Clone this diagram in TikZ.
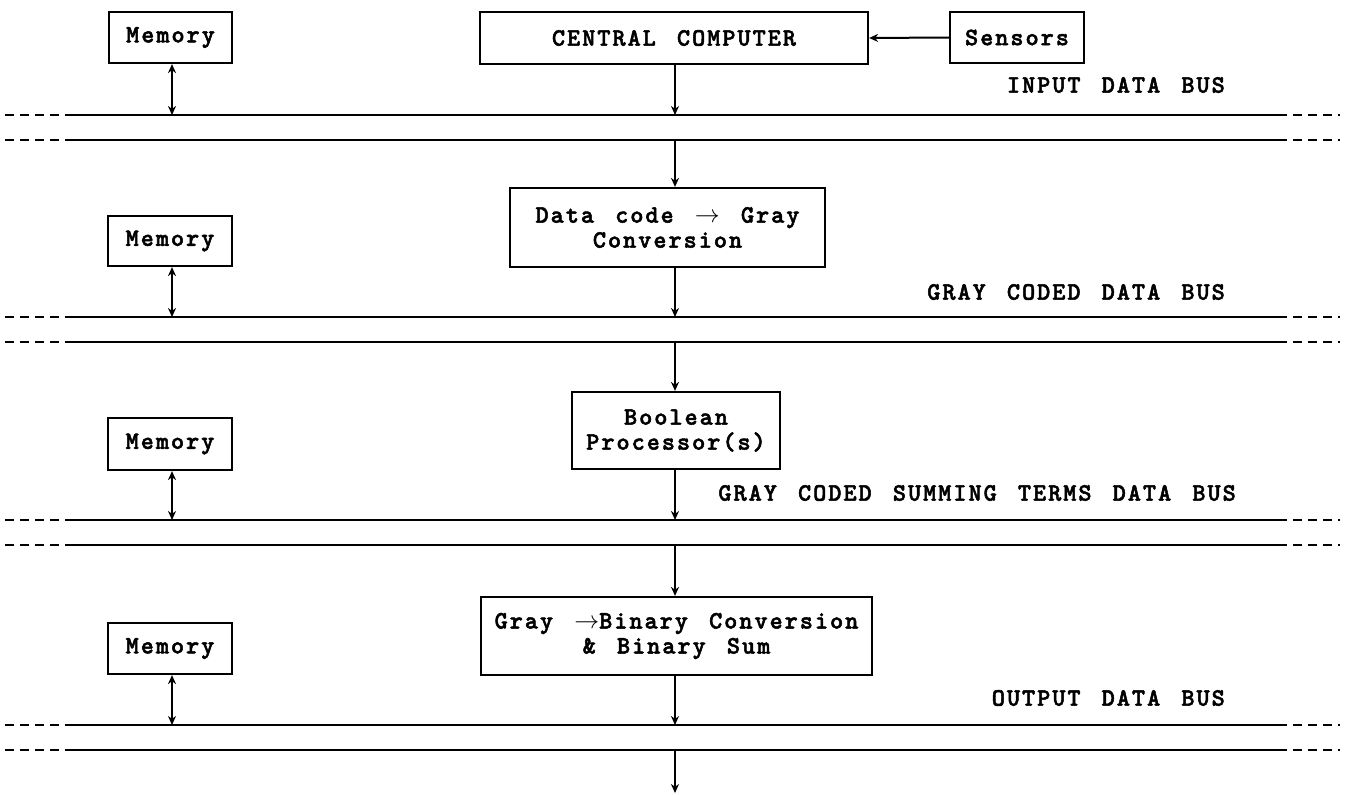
\documentclass[tikz,border=0pt]{standalone}
\usepackage{fontspec}
\usetikzlibrary{arrows.meta}
\newfontfamily\tfont{lmmonolt10-bold.otf}[LetterSpace=8, WordSpace=1.4, FakeBold=2]
\tikzset{
  box/.style={draw, line width=2.2pt, inner sep=0pt, align=center,
    font={\tfont\fontsize{25}{25}\selectfont}},
  lbl/.style={inner sep=0pt, anchor=east, font={\tfont\fontsize{25}{25}\selectfont}},
  arr/.style={line width=2pt, -{Stealth[length=9pt,width=8pt]}},
  darr/.style={line width=2pt, {Stealth[length=9pt,width=8pt]}-{Stealth[length=9pt,width=8pt]}},
  busline/.style={line width=1.8pt},
  busdash/.style={line width=1.8pt, dash pattern=on 9pt off 6pt}
}
\begin{document}
\begin{tikzpicture}[x=1pt,y=-1pt]
\useasboundingbox (0,0) rectangle (1345,795);

% boxes
\node[box, minimum width=123pt, minimum height=51pt] (m1) at (170.5,37.5) {Memory};
\node[box, minimum width=124pt, minimum height=50pt] (m2) at (170,241) {Memory};
\node[box, minimum width=124pt, minimum height=52pt] (m3) at (170,444) {Memory};
\node[box, minimum width=124pt, minimum height=51pt] (m4) at (170,648.5) {Memory};
\node[box, minimum width=388pt, minimum height=52pt] (cc) at (674,38) {CENTRAL COMPUTER};
\node[box, minimum width=134pt, minimum height=51pt] (sen) at (1017,37.5) {Sensors};
\node[box, minimum width=315pt, minimum height=79pt] (gc) at (667.5,227.5) {Data code $\rightarrow$ Gray\\Conversion};
\node[box, minimum width=208pt, minimum height=77pt] (bp) at (676,430.5) {Boolean\\Processor(s)};
\node[box, minimum width=391pt, minimum height=78pt] (gb) at (676.5,636) {Gray $\rightarrow$Binary Conversion\\\& Binary Sum};

% bus labels
\node[lbl] (l1) at (1225,85) {INPUT DATA BUS};
\node[lbl] (l2) at (1225,292) {GRAY CODED DATA BUS};
\node[lbl] (l3) at (1236,493) {GRAY CODED SUMMING TERMS DATA BUS};
\node[lbl] (l4) at (1225,698) {OUTPUT DATA BUS};

% buses
\foreach \y/\n in {115/a1,140/b1,317/a2,342/b2,520/a3,545/b3,725/a4,750/b4}{
  \coordinate (\n L) at (5,\y);
  \coordinate (\n l) at (70,\y);
  \coordinate (\n r) at (1278,\y);
  \coordinate (\n R) at (1340,\y);
  \coordinate (\n c) at (675,\y);
  \coordinate (\n m) at (172,\y);
  \draw[busdash] (\n L) -- (\n l);
  \draw[busline] (\n l) -- (\n r);
  \draw[busdash] (\n r) -- (\n R);
}
\coordinate (out) at (675,793);

% connectors
\draw[arr] (sen.west) -- (cc.east);
\draw[arr] (cc.south -| a1c) -- (a1c);
\draw[arr] (b1c) -- (gc.north -| b1c);
\draw[arr] (gc.south -| a2c) -- (a2c);
\draw[arr] (b2c) -- (bp.north -| b2c);
\draw[arr] (bp.south -| a3c) -- (a3c);
\draw[arr] (b3c) -- (gb.north -| b3c);
\draw[arr] (gb.south -| a4c) -- (a4c);
\draw[arr] (b4c) -- (out);

\draw[darr] (m1.south -| a1m) -- (a1m);
\draw[darr] (m2.south -| a2m) -- (a2m);
\draw[darr] (m3.south -| a3m) -- (a3m);
\draw[darr] (m4.south -| a4m) -- (a4m);
\end{tikzpicture}
\end{document}
